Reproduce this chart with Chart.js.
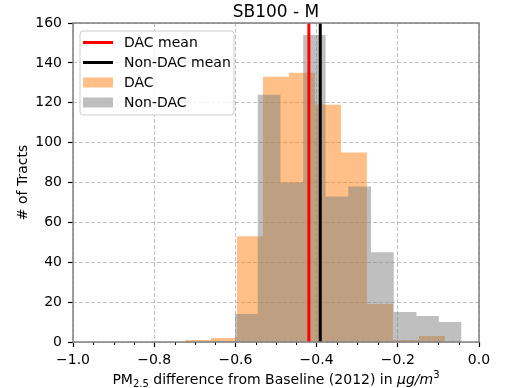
<!DOCTYPE html>
<html>
<head>
<meta charset="utf-8">
<script src="https://cdn.jsdelivr.net/npm/chart.js@4.4.0/dist/chart.umd.min.js"></script>
<style>
  html, body { margin: 0; padding: 0; background: #fff; }
  #wrap { width: 506px; height: 388px; }
</style>
</head>
<body>
<div id="wrap"><canvas id="grafico" width="506" height="388"></canvas></div>
<script>
// bin edges and counts
const dacEdges = [-0.724, -0.660, -0.596, -0.532, -0.468, -0.404, -0.340, -0.276, -0.212, -0.148, -0.084];
const dacCounts = [1, 2, 53, 133, 135, 119, 95, 19, 1, 3];
const nonDacEdges = [-0.601, -0.545, -0.489, -0.433, -0.378, -0.322, -0.266, -0.210, -0.154, -0.099, -0.043];
const nonDacCounts = [14, 124, 80, 154, 73, 78, 45, 15, 13, 10];
const dacMean = -0.419;
const nonDacMean = -0.391;
const xTicks = [-1.0, -0.8, -0.6, -0.4, -0.2, 0.0];
const yTicks = [0, 20, 40, 60, 80, 100, 120, 140, 160];

const FONT = "'DejaVu Sans', 'Liberation Sans', sans-serif";

function histPoints(edges, counts) {
    const pts = [];
    for (let i = 0; i < counts.length; i++) {
        pts.push({ x: edges[i], y: counts[i] });
        pts.push({ x: edges[i + 1], y: counts[i] });
    }
    return pts;
}

function fmtTick(v) {
    return v.toFixed(1).replace('-', '\u2212');
}

// spines, minor ticks, legend, title and axis labels
const decoraciones = {
    id: 'decoraciones',
    afterDatasetsDraw(chart) {
        const ctx = chart.ctx;
        const a = chart.chartArea;
        const xs = chart.scales.x;

        ctx.save();
        // minor ticks every 0.05
        ctx.strokeStyle = '#000';
        ctx.lineWidth = 1;
        for (let k = 0; k <= 20; k++) {
            if (k % 4 === 0) continue;
            const px = Math.round(xs.getPixelForValue(-1 + k * 0.05)) + 0.5;
            ctx.beginPath();
            ctx.moveTo(px, a.bottom);
            ctx.lineTo(px, a.bottom + 3);
            ctx.stroke();
        }

        // spines
        ctx.strokeStyle = '#808080';
        ctx.lineWidth = 1.5;
        ctx.strokeRect(a.left, a.top, a.right - a.left, a.bottom - a.top);

        // legend box
        const lx = 80, ly = 31, lw = 154, lh = 84, r = 3;
        ctx.beginPath();
        ctx.moveTo(lx + r, ly);
        ctx.lineTo(lx + lw - r, ly);
        ctx.quadraticCurveTo(lx + lw, ly, lx + lw, ly + r);
        ctx.lineTo(lx + lw, ly + lh - r);
        ctx.quadraticCurveTo(lx + lw, ly + lh, lx + lw - r, ly + lh);
        ctx.lineTo(lx + r, ly + lh);
        ctx.quadraticCurveTo(lx, ly + lh, lx, ly + lh - r);
        ctx.lineTo(lx, ly + r);
        ctx.quadraticCurveTo(lx, ly, lx + r, ly);
        ctx.closePath();
        ctx.fillStyle = 'rgba(255,255,255,0.8)';
        ctx.fill();
        ctx.strokeStyle = '#cccccc';
        ctx.lineWidth = 1;
        ctx.stroke();

        const orden = [2, 3, 0, 1]; // DAC mean, Non-DAC mean, DAC, Non-DAC
        ctx.font = '14px ' + FONT;
        ctx.textBaseline = 'middle';
        ctx.textAlign = 'left';
        orden.forEach((idx, row) => {
            const ds = chart.data.datasets[idx];
            const cy = 42.5 + row * 20;
            if (ds.fill) {
                ctx.fillStyle = ds.backgroundColor;
                ctx.fillRect(83, cy - 5, 30, 10);
            } else {
                ctx.strokeStyle = ds.borderColor;
                ctx.lineWidth = 3;
                ctx.beginPath();
                ctx.moveTo(83, cy);
                ctx.lineTo(113, cy);
                ctx.stroke();
            }
            ctx.fillStyle = '#000';
            ctx.fillText(ds.label, 124, cy + 1);
        });

        // title
        const cx = (a.left + a.right) / 2;
        ctx.fillStyle = '#000';
        ctx.font = '17px ' + FONT;
        ctx.textAlign = 'center';
        ctx.textBaseline = 'middle';
        ctx.fillText('SB100 - M', cx, 12.5);

        // y label
        ctx.save();
        ctx.translate(23, (a.top + a.bottom) / 2);
        ctx.rotate(-Math.PI / 2);
        ctx.font = '14px ' + FONT;
        ctx.fillText('# of Tracts', 0, 0);
        ctx.restore();

        // x label with sub/superscript
        const partes = [
            { t: 'PM', f: '14px ' + FONT, dy: 0 },
            { t: '2.5', f: '10px ' + FONT, dy: 3 },
            { t: ' difference from Baseline (2012) in ', f: '14px ' + FONT, dy: 0 },
            { t: '\u03bcg/m', f: 'italic 14px ' + FONT, dy: 0 },
            { t: '3', f: '10px ' + FONT, dy: -6 }
        ];
        let total = 0;
        partes.forEach(p => { ctx.font = p.f; p.w = ctx.measureText(p.t).width; total += p.w; });
        let px = cx - total / 2;
        ctx.textAlign = 'left';
        ctx.textBaseline = 'alphabetic';
        partes.forEach(p => {
            ctx.font = p.f;
            ctx.fillText(p.t, px, 384 + p.dy);
            px += p.w;
        });
        ctx.restore();
    }
};

const ctx = document.getElementById('grafico').getContext('2d');
new Chart(ctx, {
    type: 'line',
    data: {
        datasets: [
            {
                label: 'DAC',
                data: histPoints(dacEdges, dacCounts),
                backgroundColor: 'rgba(255,127,14,0.5)',
                borderWidth: 0,
                pointRadius: 0,
                fill: 'origin',
                order: 3
            },
            {
                label: 'Non-DAC',
                data: histPoints(nonDacEdges, nonDacCounts),
                backgroundColor: 'rgba(128,128,128,0.5)',
                borderWidth: 0,
                pointRadius: 0,
                fill: 'origin',
                order: 2
            },
            {
                label: 'DAC mean',
                data: [{ x: dacMean, y: 0 }, { x: dacMean, y: 160 }],
                borderColor: 'red',
                borderWidth: 3,
                pointRadius: 0,
                fill: false,
                order: 1
            },
            {
                label: 'Non-DAC mean',
                data: [{ x: nonDacMean, y: 0 }, { x: nonDacMean, y: 160 }],
                borderColor: 'black',
                borderWidth: 3,
                pointRadius: 0,
                fill: false,
                order: 0
            }
        ]
    },
    options: {
        responsive: false,
        animation: false,
        layout: { padding: { top: 23, right: 27, left: 0, bottom: 0 } },
        plugins: {
            legend: { display: false },
            title: { display: false },
            tooltip: { enabled: false }
        },
        scales: {
            x: {
                type: 'linear',
                min: -1,
                max: 0,
                afterBuildTicks: s => { s.ticks = xTicks.map(v => ({ value: v })); },
                afterFit: s => { s.height = 46; },
                ticks: {
                    callback: v => fmtTick(v),
                    font: { family: FONT, size: 14 },
                    color: '#000',
                    padding: 5,
                    maxRotation: 0,
                    autoSkip: false
                },
                grid: {
                    color: '#b0b0b0',
                    lineWidth: 0.8,
                    tickColor: '#000',
                    tickLength: 5,
                    tickWidth: 1.2
                },
                border: { display: false, dash: [4, 2] }
            },
            y: {
                min: 0,
                max: 160,
                afterBuildTicks: s => { s.ticks = yTicks.map(v => ({ value: v })); },
                afterFit: s => { s.width = 73; },
                ticks: {
                    callback: v => String(v),
                    font: { family: FONT, size: 14 },
                    color: '#000',
                    padding: 6,
                    autoSkip: false
                },
                grid: {
                    color: '#b0b0b0',
                    lineWidth: 0.8,
                    tickColor: '#000',
                    tickLength: 5,
                    tickWidth: 1.2
                },
                border: { display: false, dash: [4, 2] }
            }
        }
    },
    plugins: [decoraciones]
});
</script>
</body>
</html>
